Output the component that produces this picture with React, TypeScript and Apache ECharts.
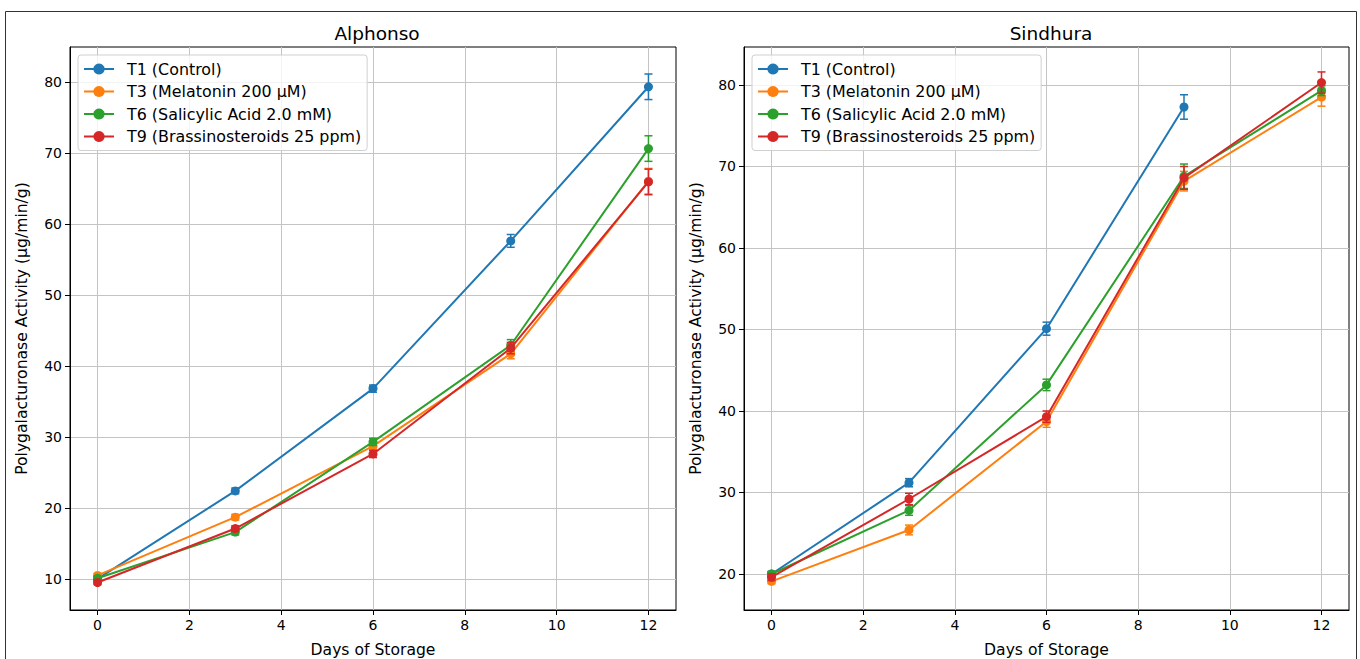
import React, { useEffect, useRef } from "react";
import * as echarts from "echarts";

const days = [0, 3, 6, 9, 12];
const seriesNames = [
  "T1 (Control)",
  "T3 (Melatonin 200 μM)",
  "T6 (Salicylic Acid 2.0 mM)",
  "T9 (Brassinosteroids 25 ppm)",
];
const colors = ["#1f77b4", "#ff7f0e", "#2ca02c", "#d62728"];

// Alphonso
const alphT1 = [10.0, 22.4, 36.8, 57.6, 79.3];
const alphT3 = [10.5, 18.7, 28.7, 41.7, 66.0];
const alphT6 = [10.1, 16.6, 29.3, 42.9, 70.6];
const alphT9 = [9.5, 17.1, 27.6, 42.5, 65.9];
const alphT1Err = [0.3, 0.4, 0.5, 0.9, 1.8];
const alphT3Err = [0.3, 0.4, 0.5, 0.7, 1.8];
const alphT6Err = [0.3, 0.4, 0.5, 0.8, 1.8];
const alphT9Err = [0.3, 0.4, 0.5, 0.8, 1.8];

// Sindhura
const sindT1 = [20.0, 31.2, 50.1, 77.3, null];
const sindT3 = [19.1, 25.4, 38.7, 68.2, 78.5];
const sindT6 = [20.0, 27.8, 43.2, 68.8, 79.3];
const sindT9 = [19.6, 29.2, 39.3, 68.6, 80.3];
const sindT1Err = [0.3, 0.5, 0.8, 1.5, null];
const sindT3Err = [0.3, 0.6, 0.7, 1.2, 1.1];
const sindT6Err = [0.3, 0.6, 0.7, 1.5, 0.6];
const sindT9Err = [0.4, 0.7, 0.7, 1.4, 1.3];

const xTicks = [0, 2, 4, 6, 8, 10, 12];
const yTicksAlph = [10, 20, 30, 40, 50, 60, 70, 80];
const yTicksSind = [20, 30, 40, 50, 60, 70, 80];

const panelTitles = ["Alphonso", "Sindhura"];
const xName = "Days of Storage";
const yName = "Polygalacturonase Activity (μg/min/g)";

const FONT = "DejaVu Sans";

export default function App() {
  const ref = useRef<HTMLDivElement>(null);
  useEffect(() => {
    if (!ref.current) return;
    const chart = echarts.init(ref.current, undefined, { renderer: "svg" });

    const panels = [
      { vals: [alphT1, alphT3, alphT6, alphT9], errs: [alphT1Err, alphT3Err, alphT6Err, alphT9Err] },
      { vals: [sindT1, sindT3, sindT6, sindT9], errs: [sindT1Err, sindT3Err, sindT6Err, sindT9Err] },
    ];

    const series: any[] = [];
    panels.forEach((p, pi) => {
      p.vals.forEach((vals, si) => {
        const errs = p.errs[si];
        const pts: number[][] = [];
        const errPts: number[][] = [];
        days.forEach((d, i) => {
          const v = vals[i];
          const e = errs[i];
          if (v == null) return;
          pts.push([d, v]);
          errPts.push([d, v - (e ?? 0), v + (e ?? 0)]);
        });
        series.push({
          type: "custom",
          name: seriesNames[si] + " err" + pi,
          xAxisIndex: pi,
          yAxisIndex: pi,
          data: errPts,
          z: 2 + si,
          silent: true,
          renderItem: (params: any, api: any) => {
            const x = api.value(0);
            const lo = api.coord([x, api.value(1)]);
            const hi = api.coord([x, api.value(2)]);
            const style = { stroke: colors[si], lineWidth: 1.5 };
            return {
              type: "group",
              children: [
                { type: "line", shape: { x1: lo[0], y1: lo[1], x2: hi[0], y2: hi[1] }, style },
                { type: "line", shape: { x1: lo[0] - 4, y1: lo[1], x2: lo[0] + 4, y2: lo[1] }, style },
                { type: "line", shape: { x1: hi[0] - 4, y1: hi[1], x2: hi[0] + 4, y2: hi[1] }, style },
              ],
            };
          },
        });
        series.push({
          type: "line",
          name: seriesNames[si],
          xAxisIndex: pi,
          yAxisIndex: pi,
          data: pts,
          z: 2 + si,
          symbol: "circle",
          symbolSize: 9,
          showSymbol: true,
          itemStyle: { color: colors[si] },
          lineStyle: { color: colors[si], width: 2 },
        });
      });
    });

    const grids = [
      { left: 70, top: 47, width: 606, height: 563 },
      { left: 744, top: 47, width: 605, height: 563 },
    ];

    const axisCommon = {
      axisLine: { show: true, onZero: false, lineStyle: { color: "#000", width: 1 } },
      axisTick: { show: true, length: 5, inside: false, lineStyle: { color: "#000", width: 1 } },
      splitLine: { show: true, lineStyle: { color: "#c4c4c4", width: 1 } },
      nameTextStyle: { fontFamily: FONT, fontSize: 15.6, color: "#000" },
    };

    const xAxes = [0, 1].map((i) => ({
      type: "value",
      gridIndex: i,
      min: -0.6,
      max: 12.6,
      name: xName,
      nameLocation: "middle",
      nameGap: 32,
      ...axisCommon,
      axisTick: { ...axisCommon.axisTick, customValues: xTicks },
      axisLabel: { customValues: xTicks, fontFamily: FONT, fontSize: 14, color: "#000", margin: 8 },
    }));

    const yAxes = [
      { min: 5.63, max: 84.9, ticks: yTicksAlph },
      { min: 15.58, max: 84.66, ticks: yTicksSind },
    ].map((a, i) => ({
      type: "value",
      gridIndex: i,
      min: a.min,
      max: a.max,
      name: yName,
      nameLocation: "middle",
      nameGap: 40,
      ...axisCommon,
      axisTick: { ...axisCommon.axisTick, customValues: a.ticks },
      axisLabel: { customValues: a.ticks, fontFamily: FONT, fontSize: 14, color: "#000", margin: 8 },
    }));

    const legendCommon = {
      orient: "vertical",
      top: 55,
      data: seriesNames,
      backgroundColor: "rgba(255,255,255,0.8)",
      borderColor: "#d0d0d0",
      borderWidth: 1,
      borderRadius: 3,
      padding: [6, 6, 6, 5],
      itemWidth: 30,
      itemHeight: 14,
      itemGap: 6.5,
      textStyle: { fontFamily: FONT, fontSize: 15.9, color: "#000", padding: [0, 0, 0, 8] },
      selectedMode: false,
    };

    chart.setOption({
      animation: false,
      backgroundColor: "#fff",
      title: [
        { text: panelTitles[0], left: 372, top: 19, textAlign: "center", textStyle: { fontFamily: FONT, fontSize: 18.5, fontWeight: "normal", color: "#000" } },
        { text: panelTitles[1], left: 1046, top: 19, textAlign: "center", textStyle: { fontFamily: FONT, fontSize: 18.5, fontWeight: "normal", color: "#000" } },
      ],
      legend: [
        { ...legendCommon, left: 78 },
        { ...legendCommon, left: 752 },
      ],
      grid: grids.map((g) => ({
        ...g,
        show: true,
        borderColor: "#000",
        borderWidth: 1,
        backgroundColor: "transparent",
        containLabel: false,
        outerBoundsMode: "none",
      })),
      xAxis: xAxes,
      yAxis: yAxes,
      series,
      graphic: [
        {
          type: "rect",
          shape: { x: 5.5, y: 11.5, width: 1351, height: 660 },
          style: { fill: "none", stroke: "#333", lineWidth: 1 },
          silent: true,
          z: -1,
        },
      ],
    });

    return () => chart.dispose();
  }, []);

  return (
    <div
      ref={ref}
      style={{ position: "fixed", left: 0, top: 0, width: 1360, height: 659, background: "#fff" }}
    />
  );
}
